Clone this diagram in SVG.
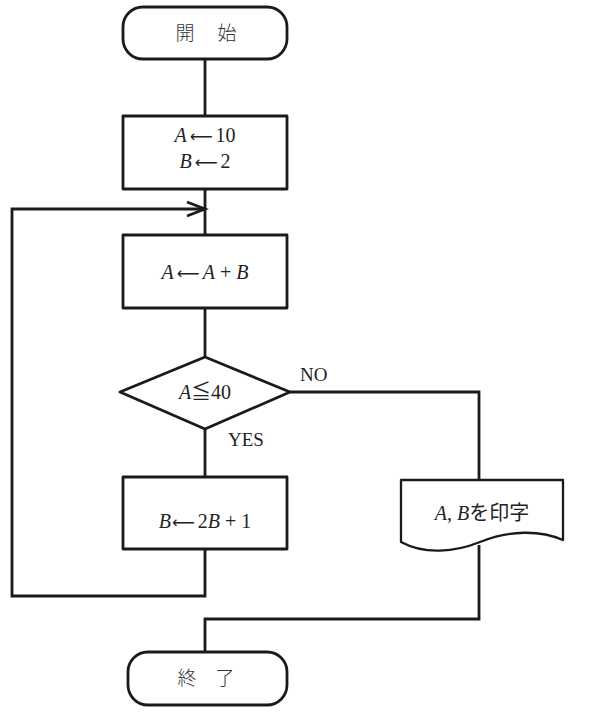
<svg xmlns="http://www.w3.org/2000/svg" width="590" height="720" viewBox="0 0 590 720">
<style>
.s{fill:#fff;stroke:#1a1a1a;stroke-width:2.8;stroke-linejoin:round}
.c{fill:none;stroke:#1a1a1a;stroke-width:2.8;stroke-linejoin:miter}
.t{font-family:"Liberation Serif","Noto Sans CJK JP",serif;font-size:20px;fill:#222;text-anchor:middle}
.i{font-style:italic}
.a{font-family:"DejaVu Sans",sans-serif;font-size:16px;font-weight:normal}
.j{font-family:"Noto Sans CJK JP",sans-serif;font-size:19px;fill:#333;text-anchor:middle;font-weight:300}
.l{font-family:"Liberation Serif",serif;font-size:19px;fill:#222}
</style>
<rect width="590" height="720" fill="#fff"/>
<g id="connectors">
<line class="c" x1="205" y1="59" x2="205" y2="116"/>
<line class="c" x1="205" y1="189" x2="205" y2="235"/>
<line class="c" x1="205" y1="308" x2="205" y2="357"/>
<line class="c" x1="205" y1="429" x2="205" y2="477"/>
<polyline class="c" points="205,549 205,596 12,596 12,209 205,209"/>
<polyline class="c" points="187,202 205,209 187,216"/>
<polyline class="c" points="290,392 479,392 479,480"/>
<polyline class="c" points="479,545 479,619 205,619 205,652"/>
<text class="l" x="300" y="381">NO</text>
<text class="l" x="228" y="446">YES</text>
</g>
<g id="start">
<rect class="s" x="123" y="7" width="164" height="52" rx="20"/>
<text class="j" x="185" y="40">開</text>
<text class="j" x="227" y="40">始</text>
</g>
<g id="init">
<rect class="s" x="123" y="116" width="164" height="73"/>
<text class="t" x="205" y="142"><tspan class="i">A</tspan><tspan class="a" dx="3">⟵</tspan><tspan dx="3">10</tspan></text>
<text class="t" x="205" y="168"><tspan class="i">B</tspan><tspan class="a" dx="3">⟵</tspan><tspan dx="3">2</tspan></text>
</g>
<g id="add">
<rect class="s" x="123" y="235" width="164" height="73"/>
<text class="t" x="205" y="279"><tspan class="i">A</tspan><tspan class="a" dx="3">⟵</tspan><tspan class="i" dx="3">A</tspan> + <tspan class="i">B</tspan></text>
</g>
<g id="cond">
<polygon class="s" points="205,357 290,392 205,429 120,392"/>
<text class="t" x="205" y="399"><tspan class="i">A</tspan>≦40</text>
</g>
<g id="updb">
<rect class="s" x="123" y="477" width="164" height="72"/>
<text class="t" x="205" y="528"><tspan class="i">B</tspan><tspan class="a" dx="1">⟵</tspan><tspan dx="3">2</tspan><tspan class="i">B</tspan> + 1</text>
</g>
<g id="print">
<path class="s" d="M401,480 H563 V540 C540,530 510,530 480,542 C455,552 425,555 401,542 Z" style="stroke-width:2.3"/>
<text class="t" x="482" y="520"><tspan class="i">A</tspan>, <tspan class="i">B</tspan>を印字</text>
</g>
<g id="end">
<rect class="s" x="128" y="652" width="159" height="53" rx="20"/>
<text class="j" x="187" y="685">終</text>
<text class="j" x="225" y="685">了</text>
</g>
</svg>
